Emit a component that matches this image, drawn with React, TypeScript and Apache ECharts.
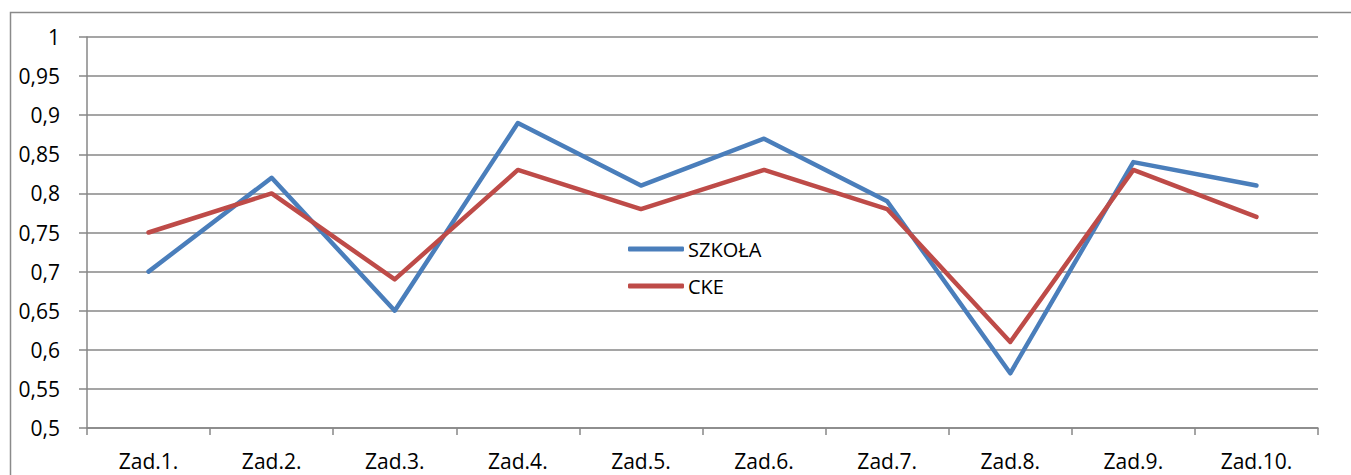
import React, { useEffect, useRef } from "react";
import * as echarts from "echarts";

const categories = ["Zad.1.", "Zad.2.", "Zad.3.", "Zad.4.", "Zad.5.", "Zad.6.", "Zad.7.", "Zad.8.", "Zad.9.", "Zad.10."];
const szkola = [0.70, 0.82, 0.65, 0.89, 0.81, 0.87, 0.79, 0.57, 0.84, 0.81];
const cke = [0.75, 0.80, 0.69, 0.83, 0.78, 0.83, 0.78, 0.61, 0.83, 0.77];
const seriesNames = ["SZKOŁA", "CKE"];

const FONT = "'Open Sans', 'Liberation Sans', sans-serif";
const GRID = "#878787";
const BLUE = "#4A7EBB";
const RED = "#BE4B48";

export default function App() {
  const ref = useRef<HTMLDivElement>(null);
  useEffect(() => {
    if (!ref.current) return;
    const chart = echarts.init(ref.current, null, { renderer: "svg" });
    chart.setOption({
      animation: false,
      backgroundColor: "#ffffff",
      textStyle: { fontFamily: FONT },
      graphic: [
        {
          type: "rect",
          shape: { x: 10.5, y: 12.5, width: 1500, height: 600 },
          style: { fill: "none", stroke: "#8a8a8a", lineWidth: 1.5 },
          silent: true,
          z: -1,
        },
      ],
      grid: { left: 87, top: 37, right: 33, bottom: 47, containLabel: false },
      legend: {
        orient: "vertical",
        left: 623,
        top: 234,
        icon: "roundRect",
        itemWidth: 56,
        itemHeight: 5,
        itemGap: 17,
        data: [
          { name: seriesNames[0], itemStyle: { color: BLUE } },
          { name: seriesNames[1], itemStyle: { color: RED } },
        ],
        textStyle: { fontSize: 20, color: "#000", fontFamily: FONT, padding: [0, 0, 0, -1] },
      },
      xAxis: {
        type: "category",
        data: categories,
        boundaryGap: true,
        axisLine: { lineStyle: { color: GRID, width: 1.5 } },
        axisTick: { show: true, length: 7, lineStyle: { color: GRID, width: 1.5 } },
        axisLabel: { fontSize: 21, color: "#000", margin: 22, fontFamily: FONT },
      },
      yAxis: {
        type: "value",
        min: 0.5,
        max: 1,
        interval: 0.05,
        axisLine: { show: true, lineStyle: { color: GRID, width: 1.5 } },
        axisTick: { show: true, length: 8, lineStyle: { color: GRID, width: 1.5 } },
        splitLine: { show: true, lineStyle: { color: GRID, width: 1.5 } },
        axisLabel: {
          fontSize: 21,
          color: "#000",
          margin: 27,
          fontFamily: FONT,
          formatter: (v: number) => String(Math.round(v * 100) / 100).replace(".", ","),
        },
      },
      series: [
        {
          name: seriesNames[0],
          type: "line",
          data: szkola,
          symbol: "none",
          color: BLUE,
          lineStyle: { width: 4.5, color: BLUE, cap: "round", join: "round" },
        },
        {
          name: seriesNames[1],
          type: "line",
          data: cke,
          symbol: "none",
          color: RED,
          lineStyle: { width: 4.5, color: RED, cap: "round", join: "round" },
        },
      ],
    });
    return () => chart.dispose();
  }, []);
  return (
    <div
      ref={ref}
      style={{ position: "fixed", left: 0, top: 0, width: 1351, height: 475 }}
    />
  );
}
